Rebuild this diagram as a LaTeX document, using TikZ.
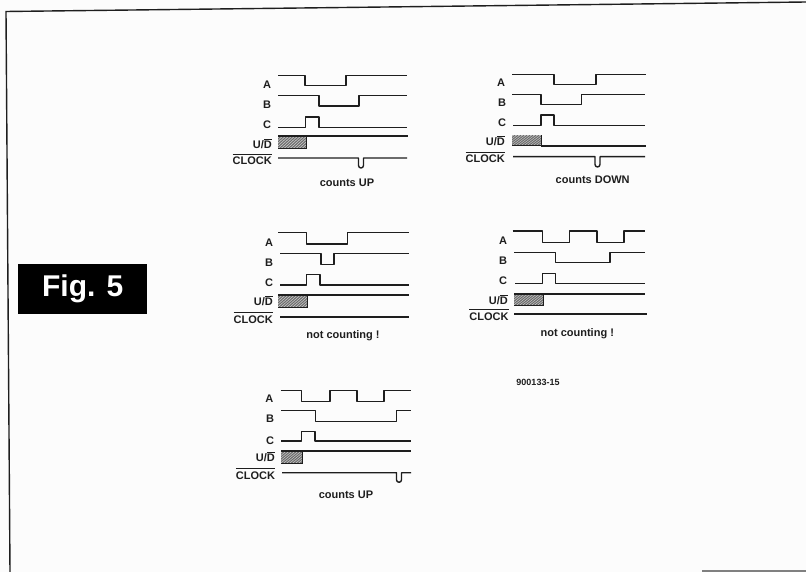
\documentclass[tikz,border=0pt]{standalone}
\usepackage{fontspec}
\setmainfont{Liberation Sans}
\definecolor{ink}{HTML}{1E1E1E}
\newcommand\barD{\leavevmode\vbox{\hrule height .9pt\kern .8pt\hbox{D}}}
\newcommand\barClock{\leavevmode\vbox{\hrule height .9pt\kern 2.6pt\hbox{CLOCK}}}
% hatched block: #1 left, #2 top, #3 right, #4 bottom
\newcommand\hatchblock[4]{%
  \begin{scope}
    \clip (#1,#2) rectangle (#3,#4);
    \fill[gray!40] (#1,#2) rectangle (#3,#4);
    \foreach \k in {0,3,...,48}
      \draw[draw=ink!65,line width=1.1pt] ({#1+\k-14},#4) -- ({#1+\k},#2);
  \end{scope}
  \draw[draw=ink,line width=1pt] (#1,#4) -- (#3,#4) -- (#3,#2);
}
\tikzset{
  trace/.style={draw=ink,line width=1.4pt,line join=round},
  heavy/.style={draw=ink,line width=1.8pt},
  frameline/.style={draw=ink,line width=1.4pt},
  lab/.style={inner sep=0pt,font=\fontsize{11}{11}\selectfont\bfseries,text=ink},
  labr/.style={lab,anchor=east},
  labclock/.style={lab,anchor=base east},
}
\begin{document}
\begin{tikzpicture}[x=1pt,y=-1pt]
\useasboundingbox (0,0) rectangle (806,572);
\fill[white!99!black] (0,0) rectangle (806,572);
% frame
\draw[frameline] (806,2) -- (6,11.5) -- (10,572);
\draw[draw=gray,line width=1.2pt] (702,571) -- (806,571);
% title
\node[fill=black,minimum width=129pt,minimum height=50pt,inner sep=0pt,anchor=north west,text=white,font=\fontsize{30}{30}\selectfont\bfseries] (fig) at (18,263.5) {Fig. 5};
% panel 1
\node[lab] (a1) at (267,85) {A};
\node[lab] (b1) at (267,105) {B};
\node[lab] (c1) at (267,125) {C};
\node[labr] (u1) at (272,144) {U/\barD};
\node[labclock] (k1) at (272,165) {\barClock};
\node[lab] (t1) at (347,183) {counts UP};
\draw[trace] (278,75.7) -| (305,85.7) -| (346,75.7) -- (407,75.7);
\draw[trace] (278,95.7) -| (319,106) -| (359,95.7) -- (407,95.7);
\draw[trace] (278,127.7) -| (305.7,117) -| (319,127.7) -- (407,127.7);
\hatchblock{278}{136.3}{306}{149}
\draw[heavy] (278,136.3) -- (408,136.3);
\draw[trace] (278,158) -- (358.5,158) -- (358.5,165.5) arc[start angle=180,end angle=0,radius=2.5] -- (363.5,158) -- (407,158);
% panel 2
\node[lab] (a2) at (501,83) {A};
\node[lab] (b2) at (502,103) {B};
\node[lab] (c2) at (502,123) {C};
\node[labr] (u2) at (505,141) {U/\barD};
\node[labclock] (k2) at (505,163) {\barClock};
\node[lab] (t2) at (592.7,180) {counts DOWN};
\draw[trace] (512,74.3) -| (554,84.7) -| (596,74.3) -- (646,74.3);
\draw[trace] (512,94.3) -| (541,104.7) -| (581.7,94.3) -- (645,94.3);
\draw[trace] (513,125.7) -| (541,115) -| (554,125.7) -- (645,125.7);
\hatchblock{512}{135.3}{541}{146}
\draw[heavy] (541,145.7) -- (646,145.7);
\draw[trace] (513,156.7) -- (595,156.7) -- (595,164.5) arc[start angle=180,end angle=0,radius=2.5] -- (600,156.7) -- (645,156.7);
% panel 3
\node[lab] (a3) at (269,242.3) {A};
\node[lab] (b3) at (269,263) {B};
\node[lab] (c3) at (269,283) {C};
\node[labr] (u3) at (273,301) {U/\barD};
\node[labclock] (k3) at (273,323) {\barClock};
\node[lab] (t3) at (343,335.7) {not counting !};
\draw[trace] (278,232.7) -| (306.7,244) -| (347.7,232.7) -- (409,232.7);
\draw[trace] (280,253.3) -| (321,264.3) -| (334,253.3) -- (409,253.3);
\draw[trace] (280,285) -| (306.7,274.3) -| (320,285) -- (409,285);
\hatchblock{278}{295}{307}{307.3}
\draw[heavy] (278,295) -- (409,295);
\draw[heavy] (280,316.7) -- (409,316.7);
% panel 4
\node[lab] (a4) at (503,240.7) {A};
\node[lab] (b4) at (503,260.7) {B};
\node[lab] (c4) at (503,281) {C};
\node[labr] (u4) at (508,300) {U/\barD};
\node[labclock] (k4) at (508.7,320.5) {\barClock};
\node[lab] (t4) at (577.3,333.3) {not counting !};
\draw[trace] (512.7,231) -| (542.7,242.3) -| (569.3,231) -| (597,242.3) -| (624,231) -- (645,231);
\draw[trace] (514,252.3) -| (555.3,262.7) -| (610,252.3) -- (645,252.3);
\draw[trace] (515,283.3) -| (542.3,273.3) -| (555.7,283.3) -- (645,283.3);
\hatchblock{514}{294}{543}{305.3}
\draw[heavy] (514,294) -- (645,294);
\draw[heavy] (514,314.3) -- (647,314.3);
% panel 5
\node[lab] (a5) at (269.3,398.3) {A};
\node[lab] (b5) at (270,419) {B};
\node[lab] (c5) at (270,440.7) {C};
\node[labr] (u5) at (275,456.7) {U/\barD};
\node[labclock] (k5) at (275.3,479) {\barClock};
\node[lab] (t5) at (346,495) {counts UP};
\draw[trace] (280.7,390.7) -| (301.7,401.7) -| (330,390.7) -| (357,401.7) -| (384,390.7) -- (411,390.7);
\draw[trace] (281,410.3) -| (315.3,421.7) -| (396.7,410.3) -- (411,410.3);
\draw[trace] (281,441) -| (301.7,431.7) -| (315,441) -- (411,441);
\hatchblock{281}{451.7}{302}{463.3}
\draw[heavy] (281,451.3) -- (411,451.3);
\draw[trace] (282,472.7) -- (396.5,472.7) -- (396.5,479.8) arc[start angle=180,end angle=0,radius=2.5] -- (401.5,472.7) -- (411,472.7);
% part number
\node[inner sep=0pt,font=\fontsize{9}{9}\selectfont\bfseries,text=ink] (num) at (538,382) {900133-15};
\end{tikzpicture}
\end{document}
